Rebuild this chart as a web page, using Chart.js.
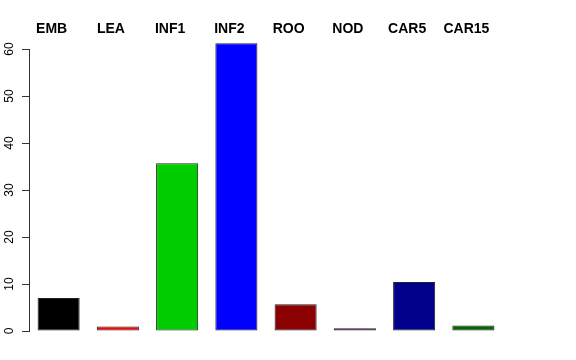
<!DOCTYPE html>
<html>
<head>
<meta charset="utf-8">
<script src="https://cdn.jsdelivr.net/npm/chart.js@4/dist/chart.umd.min.js"></script>
<style>
html,body{margin:0;padding:0;background:#fff;}
#wrap{width:576px;height:360px;}
</style>
</head>
<body>
<div id="wrap"><canvas id="chart" width="576" height="360"></canvas></div>
<script>
// Données
const categories=["EMB","LEA","INF1","INF2","ROO","NOD","CAR5","CAR15"];
const values=[7.0,0.95,35.7,61.2,5.7,0.6,10.45,1.15];
const barColors=["#000000","#FF0000","#00CD00","#0000FF","#8B0000","#CD00CD","#00008B","#006400"];
const yTicks=[0,10,20,30,40,50,60];

const ctx=document.getElementById("chart").getContext("2d");
new Chart(ctx,{
  type:"bar",
  data:{labels:categories,datasets:[{
    data:values,
    backgroundColor:barColors,
    borderColor:"#222",
    borderWidth:1,
    borderSkipped:false,
    barPercentage:0.71,
    categoryPercentage:1,
    clip:false
  }]},
  options:{
    responsive:false,
    animation:false,
    layout:{padding:{left:0,right:73,top:0,bottom:29}},
    plugins:{legend:{display:false},tooltip:{enabled:false}},
    scales:{
      x:{
        position:"top",
        offset:true,
        grid:{display:false,drawTicks:false},
        border:{display:false},
        ticks:{color:"#000",font:{family:"Liberation Sans, Arial, sans-serif",size:14,weight:"bold"},labelOffset:-7,padding:11,maxRotation:0,minRotation:0},
        afterFit:s=>{s.height=49;}
      },
      y:{
        min:0,max:60,
        afterBuildTicks:s=>{s.ticks=yTicks.map(v=>({value:v}));},
        grid:{drawOnChartArea:false,drawTicks:true,tickLength:7,color:"#333"},
        border:{display:true,color:"#333",width:1},
        ticks:{color:"#000",font:{family:"Liberation Sans, Arial, sans-serif",size:12},minRotation:90,maxRotation:90,crossAlign:"center",padding:6},
        afterFit:s=>{s.width=29;}
      }
    }
  }
});
</script>
</body>
</html>
